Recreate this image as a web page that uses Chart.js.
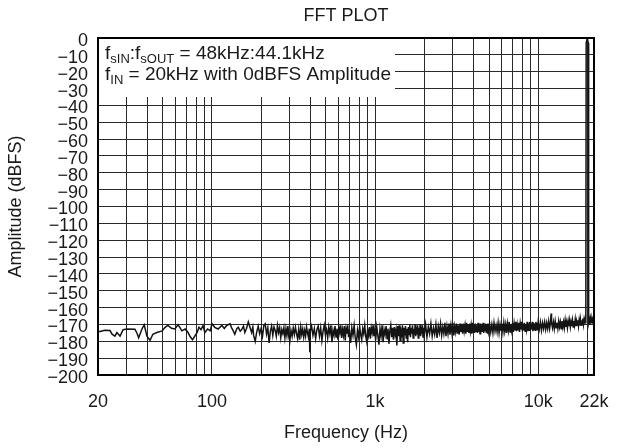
<!DOCTYPE html>
<html>
<head>
<meta charset="utf-8">
<script src="https://cdn.jsdelivr.net/npm/chart.js@4/dist/chart.umd.min.js"></script>
<style>
  html, body { margin: 0; padding: 0; background: #fff; }
  #wrap { width: 625px; height: 448px; }
</style>
</head>
<body>
<div id="wrap"><canvas id="fftChart" width="625" height="448"></canvas></div>
<script>
// FFT trace: frequency (Hz) and level (dBFS)
const freqHz = [
  // 20 - 115 Hz
  20, 20.6, 22, 23.7, 24.4, 25.4, 26.1, 27.3, 28.5, 30.1, 33.7, 34.7, 35.5, 37.2, 38.4, 39.9,
  41.7, 43.4, 45.9, 49.5, 51.6, 53.6, 56.5, 59.2, 61.9, 63.5, 65.3, 68.5, 71.3, 73.6, 75.9, 77.3,
  81.1, 83.2, 85.7, 88.1, 90.4, 94, 97.5, 100, 104, 109,
  // 115 - 180 Hz
  115, 119, 123, 129, 132, 135, 138, 142, 145, 149, 152, 156, 159, 163, 167, 171, 175, 178,
  // 180 - 300 Hz
  180, 184, 188, 192, 196, 200, 204, 208, 212, 216, 220, 224, 228, 232, 236, 240,
  244, 248, 252, 256, 260, 264, 268, 272, 276, 280, 284, 288, 292, 296, 300,
  // 300 - 400 Hz
  305, 310, 315, 320, 325, 330, 335, 340, 345, 350, 355, 360, 365, 370, 375, 380,
  385, 390, 395, 398, 401,
  // 400 - 700 Hz
  408, 416, 424, 432, 440, 448, 456, 464, 472, 480, 488, 496, 504, 512, 520, 528,
  536, 544, 552, 560, 568, 576, 584, 592, 600, 608, 616, 624, 632, 640, 648, 656,
  664, 672, 680, 688, 696,
  // 700 - 1000 Hz
  708, 720, 732, 744, 756, 768, 780, 792, 804, 816, 828, 840, 852, 864, 876, 888,
  900, 912, 924, 936, 948, 960, 972, 984, 996,
  // 1 - 2 kHz
  1008, 1024, 1040, 1056, 1072, 1088, 1104, 1120, 1136, 1152, 1168, 1184, 1200, 1216, 1232, 1248,
  1264, 1280, 1296, 1312, 1328, 1344, 1360, 1376, 1392, 1408, 1424, 1440, 1456, 1472, 1488, 1504,
  1520, 1536, 1552, 1568, 1584, 1600, 1616, 1632, 1648, 1664, 1680, 1696, 1712, 1728, 1744, 1760,
  1776, 1792, 1808, 1824, 1840, 1856, 1872, 1888, 1904, 1920, 1936, 1952, 1968, 1984,
  // 2 - 5 kHz
  2000, 2040, 2080, 2120, 2160, 2200, 2240, 2280, 2320, 2360, 2400, 2440, 2480, 2520, 2560,
  2600, 2640, 2680, 2720, 2760, 2800, 2840, 2880, 2920, 2960, 3000, 3040, 3080, 3120, 3160,
  3200, 3240, 3280, 3320, 3360, 3400, 3440, 3480, 3520, 3560, 3600, 3640, 3680, 3720, 3760,
  3800, 3840, 3880, 3920, 3960, 4000, 4040, 4080, 4120, 4160, 4200, 4240, 4280, 4320, 4360,
  4400, 4440, 4480, 4520, 4560, 4600, 4640, 4680, 4720, 4760, 4800, 4840, 4880, 4920, 4960,
  // 5 - 10 kHz
  5040, 5120, 5200, 5280, 5360, 5440, 5520, 5600, 5680, 5760, 5840, 5920, 6000, 6080, 6160, 6240,
  6320, 6400, 6480, 6560, 6640, 6720, 6800, 6880, 6960, 7040, 7120, 7200, 7280, 7360, 7440, 7520,
  7600, 7680, 7760, 7840, 7920, 8000, 8080, 8160, 8240, 8320, 8400, 8480, 8560, 8640, 8720, 8800,
  8880, 8960, 9040, 9120, 9200, 9280, 9360, 9440, 9520, 9600, 9680, 9760, 9840, 9920,
  // 10 - 19.5 kHz
  10000, 10160, 10320, 10480, 10640, 10800, 10960, 11120, 11280, 11440, 11600, 11760, 11920, 12000, 12080,
  12240, 12400, 12560, 12720, 12880, 13040, 13200, 13360, 13520, 13680, 13840, 14000, 14160, 14320, 14480,
  14640, 14800, 14960, 15120, 15280, 15440, 15600, 15760, 15920, 16080, 16240, 16400, 16560, 16720, 16880,
  17040, 17200, 17360, 17520, 17680, 17840, 18000, 18160, 18320, 18480, 18640, 18800, 18960, 19120, 19280,
  19440,
  // 20 kHz tone and tail
  19600, 19700, 20000, 20300, 20400,
  20550, 20700, 20850, 21000, 21150, 21300, 21450, 21600, 21750, 21900, 22000
];
const levelDb = [
  // 20 - 115 Hz
  -174.2, -174.2, -173.4, -173.6, -175.8, -176.9, -174.8, -176.9, -173.1, -172.7, -172.9, -175.2, -177.9, -172.7, -170.2, -176.9,
  -179.4, -175.8, -174.8, -173.8, -171.7, -170.6, -172.3, -172.7, -170.2, -171.7, -173.8, -172.7, -174.8, -177.3, -179.0, -177.9,
  -174.8, -171.7, -173.1, -170.6, -174.8, -172.7, -173.8, -169.6, -171.7, -172.7,
  // 115 - 180 Hz
  -170.6, -172.4, -170.6, -169.6, -172.0, -173.8, -175.8, -172.5, -171.7, -174.0, -173.1, -171.0, -174.8, -172.2, -168.5, -171.7, -174.8, -171.5,
  // 180 - 300 Hz
  -176.5, -180.0, -174.5, -171.0, -175.5, -172.5, -177.0, -170.5, -169.6, -175.8, -172.0, -181.0, -174.0, -171.0, -176.5, -171.5,
  -173.5, -177.0, -170.5, -174.8, -171.8, -177.9, -173.0, -175.5, -172.0, -178.0, -172.5, -176.5, -171.0, -177.5, -180.0,
  // 300 - 400 Hz
  -173.5, -177.0, -172.0, -176.0, -171.7, -175.5, -178.5, -173.0, -179.0, -171.5, -176.0, -172.7, -177.5, -173.5, -176.9, -171.5,
  -175.0, -177.5, -172.5, -186.5, -174.0,
  // 400 - 700 Hz
  -171.0, -176.5, -172.5, -178.5, -173.0, -171.0, -177.0, -172.0, -179.5, -174.0, -170.5, -176.0, -173.0, -178.0, -171.5, -175.5,
  -170.5, -180.5, -173.5, -176.5, -171.0, -177.5, -172.5, -179.0, -171.5, -175.0, -170.5, -178.0, -173.0, -176.5, -171.0, -179.5,
  -172.5, -175.5, -170.5, -177.5, -173.0,
  // 700 - 1000 Hz
  -181.0, -172.0, -176.5, -170.5, -178.0, -182.0, -173.5, -177.5, -171.0, -176.0, -179.0, -172.5, -175.5, -170.5, -177.0, -180.0,
  -173.0, -176.5, -171.5, -178.5, -172.0, -175.0, -170.5, -177.0, -172.5,
  // 1 - 2 kHz
  -179.5, -171.5, -176.5, -182.0, -172.5, -177.0, -170.5, -180.5, -173.0, -176.0, -171.0, -178.5, -172.5, -181.5, -174.0, -170.5,
  -177.5, -172.0, -179.0, -171.5, -176.0, -173.0, -182.5, -171.0, -177.0, -170.5, -179.5, -173.5, -175.5, -170.5, -181.0, -172.0,
  -176.5, -171.0, -178.0, -172.5, -180.5, -171.5, -176.0, -170.0, -177.5, -172.0, -175.5, -170.5, -178.0, -172.5, -176.0, -170.0,
  -177.0, -171.5, -175.5, -170.5, -178.0, -172.0, -176.5, -170.0, -177.0, -171.5, -175.5, -170.5, -177.5, -172.0,
  // 2 - 5 kHz
  -176.5, -170.0, -177.5, -171.5, -175.5, -169.5, -177.0, -172.0, -176.0, -170.0, -178.0, -171.0, -175.0, -169.5, -176.5,
  -171.5, -175.5, -169.0, -177.0, -171.0, -175.5, -169.5, -176.0, -170.5, -175.0, -169.0, -176.5, -171.0, -174.5, -169.5,
  -175.5, -170.5, -176.0, -169.5, -174.5, -170.0, -175.5, -169.5, -174.0, -170.5, -175.5, -169.0, -174.5, -170.0, -175.0,
  -169.5, -174.0, -170.5, -175.5, -169.0, -174.5, -170.0, -175.0, -169.5, -174.0, -170.5, -175.0, -169.0, -174.5, -170.0,
  -175.5, -169.5, -174.0, -170.0, -174.5, -169.0, -175.0, -170.5, -174.0, -169.5, -174.5, -170.0, -175.0, -169.5, -174.0,
  // 5 - 10 kHz
  -169.5, -174.5, -170.0, -175.0, -169.0, -174.0, -170.5, -174.5, -169.0, -175.0, -170.0, -173.5, -169.5, -174.5, -169.0, -174.0,
  -170.0, -175.0, -169.5, -173.5, -168.5, -174.5, -170.0, -173.5, -169.0, -174.5, -169.5, -173.5, -168.5, -174.0, -170.0, -173.5,
  -169.0, -174.5, -169.5, -173.0, -168.5, -174.0, -169.5, -173.5, -169.0, -174.0, -170.0, -173.0, -168.5, -174.0, -169.5, -173.5,
  -168.5, -173.5, -169.5, -173.0, -168.5, -174.0, -169.0, -173.0, -169.5, -173.5, -168.5, -173.0, -169.0, -173.5,
  // 10 - 19.5 kHz
  -169.0, -173.0, -168.5, -173.5, -169.0, -172.5, -168.5, -173.0, -169.0, -172.5, -168.0, -172.5, -168.5, -163.5, -168.5,
  -172.0, -168.5, -172.5, -168.0, -172.0, -169.0, -172.5, -168.0, -171.5, -168.5, -172.5, -168.0, -171.5, -168.5, -172.0,
  -167.5, -171.5, -168.5, -172.0, -168.0, -171.0, -167.5, -171.5, -168.5, -171.0, -167.5, -171.5, -168.0, -170.5, -167.0,
  -171.0, -168.0, -170.5, -167.5, -171.0, -167.5, -170.5, -167.0, -170.5, -167.5, -170.0, -166.5, -170.0, -167.0, -169.5,
  -167.0,
  // 20 kHz tone and tail
  -169.5, -3.0, 0.0, -3.0, -169.0,
  -167.5, -170.0, -167.0, -169.5, -166.5, -169.0, -167.5, -169.5, -167.0, -169.0, -168.5
];

// axis ticks
const gridFreqs = [20, 30, 40, 50, 60, 70, 80, 90, 100, 200, 300, 400, 500, 600, 700, 800, 900,
  1000, 2000, 3000, 4000, 5000, 6000, 7000, 8000, 9000, 10000, 20000, 22000];
const freqLabels = { 20: '20', 100: '100', 1000: '1k', 10000: '10k', 22000: '22k' };
const ampMin = -200, ampMax = 0, ampStep = 10;

const FONT = 'Liberation Sans, Arial, Helvetica, sans-serif';
const TEXT = '#1a1a1a';

// note box lines, subscripts flagged
const noteLines = [
  [{ t: 'f' }, { t: 'sIN', sub: true }, { t: ':f' }, { t: 'sOUT', sub: true }, { t: ' = 48kHz:44.1kHz' }],
  [{ t: 'f' }, { t: 'IN', sub: true }, { t: ' = 20kHz with 0dBFS Amplitude' }]
];

function runsWidth(ctx, runs) {
  let w = 0;
  runs.forEach(r => {
    ctx.font = (r.sub ? '13px ' : '19px ') + FONT;
    w += ctx.measureText(r.t).width;
  });
  return w;
}

const overlay = {
  id: 'overlay',
  beforeDatasetsDraw(chart) {
    const { ctx, chartArea: a } = chart;
    ctx.save();
    const x0 = a.left + 7;
    const wMax = Math.max(...noteLines.map(l => runsWidth(ctx, l)));
    ctx.fillStyle = '#fff';
    ctx.fillRect(a.left + 1, a.top + 1, x0 + wMax + 3 - a.left, 58);
    ctx.fillStyle = TEXT;
    ctx.textBaseline = 'middle';
    noteLines.forEach((runs, i) => {
      let x = x0;
      const y = a.top + 16 + i * 21;
      runs.forEach(r => {
        ctx.font = (r.sub ? '13px ' : '19px ') + FONT;
        ctx.fillText(r.t, x, r.sub ? y + 5 : y);
        x += ctx.measureText(r.t).width;
      });
    });
    ctx.restore();
  },
  afterDraw(chart) {
    const { ctx, chartArea: a } = chart;
    ctx.save();
    ctx.strokeStyle = '#000';
    ctx.lineWidth = 2;
    ctx.strokeRect(a.left, a.top, a.right - a.left, a.bottom - a.top);
    ctx.fillStyle = TEXT;
    ctx.font = '18px ' + FONT;
    ctx.textAlign = 'center';
    ctx.textBaseline = 'middle';
    ctx.fillText('FFT PLOT', (a.left + a.right) / 2, 16);
    ctx.restore();
  }
};

new Chart(document.getElementById('fftChart'), {
  type: 'line',
  data: {
    datasets: [{
      data: freqHz.map((f, i) => ({ x: f, y: levelDb[i] })),
      borderColor: '#141414',
      borderWidth: 1.5,
      pointRadius: 0,
      tension: 0,
      fill: false
    }]
  },
  options: {
    responsive: false,
    animation: false,
    events: [],
    layout: { padding: { top: 38, right: 31, left: 0, bottom: 0 } },
    plugins: {
      legend: { display: false },
      title: { display: false },
      tooltip: { enabled: false }
    },
    scales: {
      x: {
        type: 'logarithmic',
        min: 20,
        max: 22000,
        afterBuildTicks: s => { s.ticks = gridFreqs.map(v => ({ value: v })); },
        afterFit: s => { s.height = 73; },
        grid: { color: '#2a2a2a', lineWidth: 1, drawTicks: false },
        border: { display: false },
        ticks: {
          autoSkip: false,
          maxRotation: 0,
          padding: 16,
          color: TEXT,
          font: { family: FONT, size: 18 },
          callback: v => freqLabels[v] || ''
        },
        title: {
          display: true,
          text: 'Frequency (Hz)',
          color: TEXT,
          font: { family: FONT, size: 18 },
          padding: { top: 0, bottom: 4 }
        }
      },
      y: {
        min: ampMin,
        max: ampMax,
        afterFit: s => { s.width = 98; },
        grid: { color: '#2a2a2a', lineWidth: 1, drawTicks: false },
        border: { display: false },
        ticks: {
          stepSize: ampStep,
          autoSkip: false,
          padding: 10,
          labelOffset: 3,
          color: TEXT,
          font: { family: FONT, size: 18 },
          callback: v => v < 0 ? '\u2212' + Math.abs(v) : String(v)
        },
        title: {
          display: true,
          text: 'Amplitude (dBFS)',
          color: TEXT,
          font: { family: FONT, size: 18 },
          padding: { top: 5, bottom: 0 }
        }
      }
    }
  },
  plugins: [overlay]
});
</script>
</body>
</html>
